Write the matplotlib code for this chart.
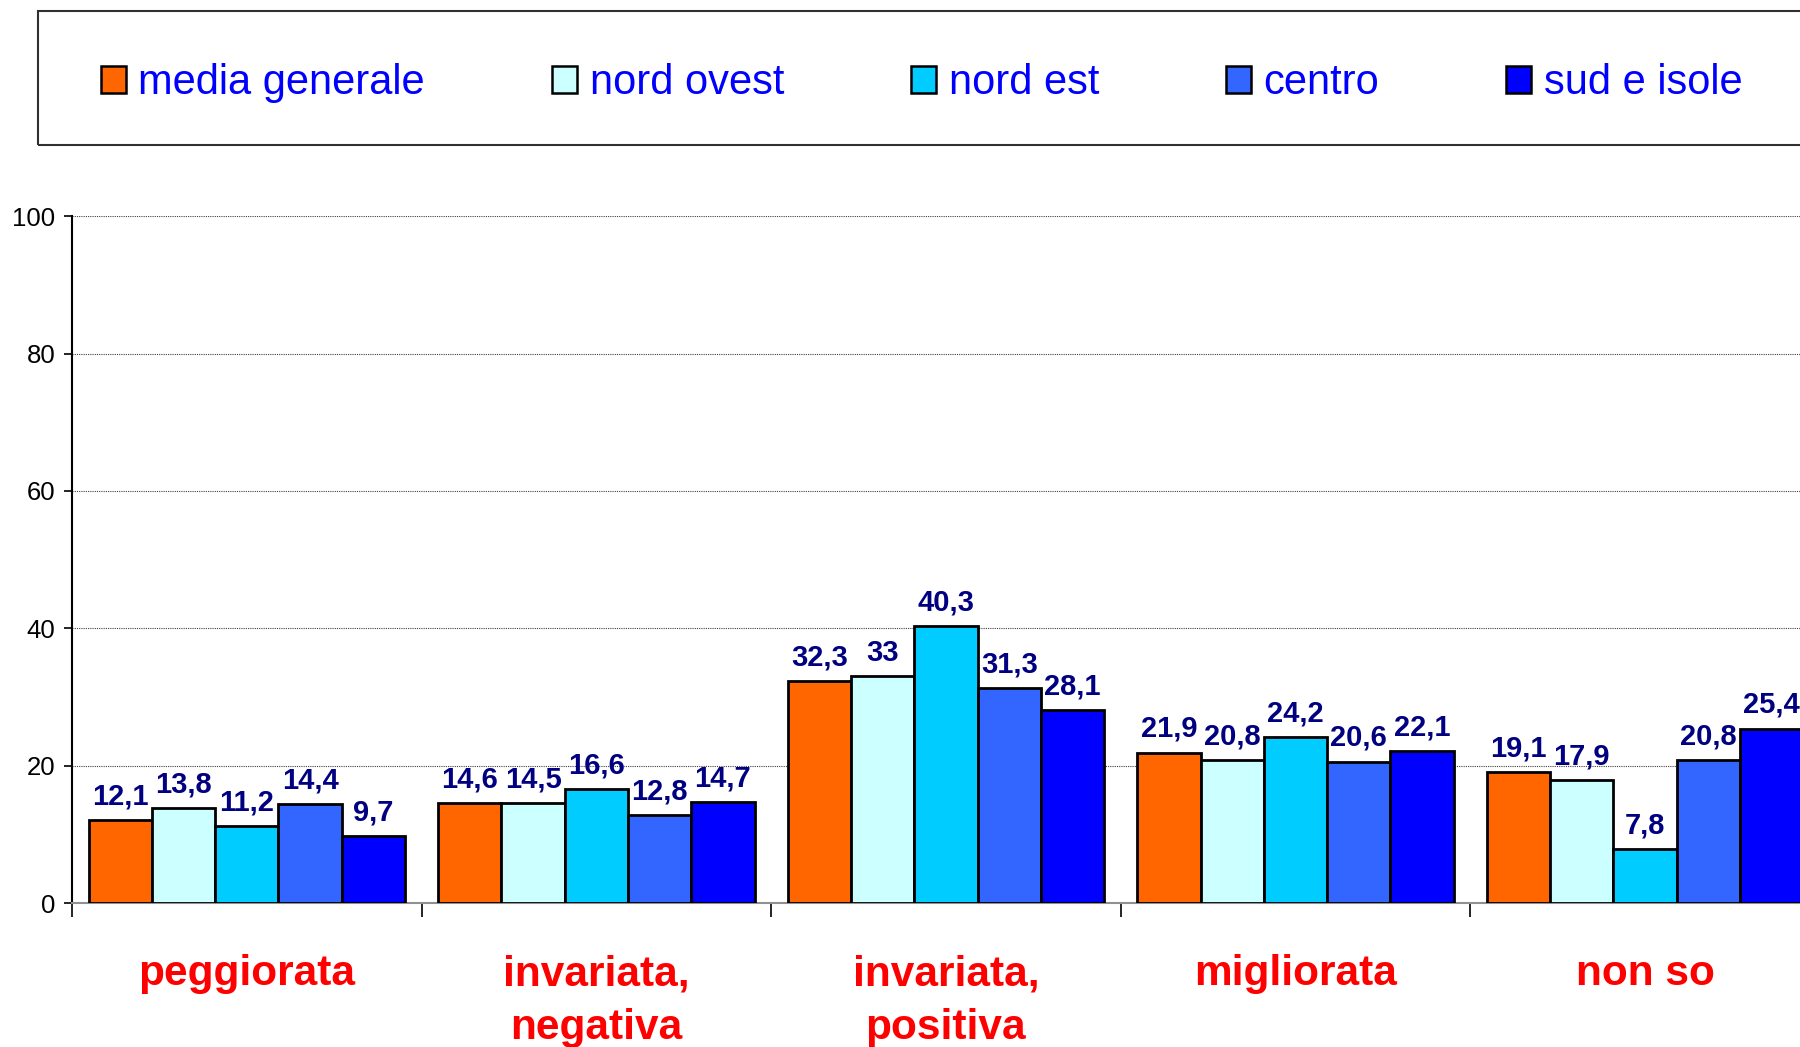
import numpy as np
import matplotlib
matplotlib.use("Agg")
import matplotlib.pyplot as plt
from matplotlib.patches import Rectangle, Patch

plt.rcParams['font.family'] = ['Liberation Sans', 'DejaVu Sans']

categorie = ["peggiorata", "invariata,\nnegativa", "invariata,\npositiva", "migliorata", "non so"]
serie = ["media generale", "nord ovest", "nord est", "centro", "sud e isole"]

media_generale = [12.1, 14.6, 32.3, 21.9, 19.1]
nord_ovest = [13.8, 14.5, 33, 20.8, 17.9]
nord_est = [11.2, 16.6, 40.3, 24.2, 7.8]
centro = [14.4, 12.8, 31.3, 20.6, 20.8]
sud_isole = [9.7, 14.7, 28.1, 22.1, 25.4]

valori = [media_generale, nord_ovest, nord_est, centro, sud_isole]
colori = ["#FF6600", "#CCFFFF", "#00CCFF", "#3366FF", "#0000FF"]

fig = plt.figure(figsize=(18, 10.47), dpi=100)
ax = fig.add_axes([0.040, 0.1375, 0.971, 0.656])

x = np.arange(len(categorie))
w = 0.181
for i, (vals, col) in enumerate(zip(valori, colori)):
    pos = x + (i - 2) * w
    ax.bar(pos, vals, width=w, color=col, edgecolor="black", linewidth=2, zorder=3)
    for px, v in zip(pos, vals):
        ax.annotate(f"{v:g}".replace(".", ","), (px, v), xytext=(0, 7),
                    textcoords="offset points", ha="center", va="bottom",
                    fontsize=21, fontweight="bold", color="#000080", zorder=4)

ax.set_xlim(-0.5, 4.5)
ax.set_ylim(0, 100)
ax.set_yticks(np.arange(0, 101, 20))
ax.tick_params(axis="y", labelsize=18.5, length=6, width=1.2, pad=6)

# tick sulle separazioni, etichette in mezzo
ax.set_xticks(np.arange(-0.5, 4.5, 1))
ax.set_xticklabels([])
ax.tick_params(axis="x", which="major", length=10, width=1.2, direction="out")
ax.set_xticks(x, minor=True)
ax.set_xticklabels(categorie, minor=True, fontsize=30.5, fontweight="bold",
                   color="#FF0000", linespacing=1.45)
ax.tick_params(axis="x", which="minor", length=0, pad=37)

ax.yaxis.grid(True, linestyle=(0, (1, 1)), color="#404040", linewidth=0.8)
ax.set_axisbelow(True)
for s in ["top", "right"]:
    ax.spines[s].set_visible(False)
ax.spines["left"].set_linewidth(1.5)
ax.spines["bottom"].set_color("#909090")
ax.spines["bottom"].set_linewidth(1.5)

# riquadro legenda
fig.patches.append(Rectangle((0.0211, 0.8615), 1.1, 0.128, transform=fig.transFigure,
                             fill=False, edgecolor="#303030", linewidth=1.5))
handles = [Patch(facecolor=c, edgecolor="black", linewidth=1.8) for c in colori]
leg = fig.legend(handles, serie, loc="center left", bbox_to_anchor=(101 / 1800, 1 - 83 / 1047),
                 ncol=5, frameon=False, fontsize=30, borderpad=0, borderaxespad=0,
                 handlelength=0.6, handleheight=0.6, handletextpad=0.3, columnspacing=3.05)
for t in leg.get_texts():
    t.set_color("#0000FF")

fig.savefig("out.png", dpi=100)
